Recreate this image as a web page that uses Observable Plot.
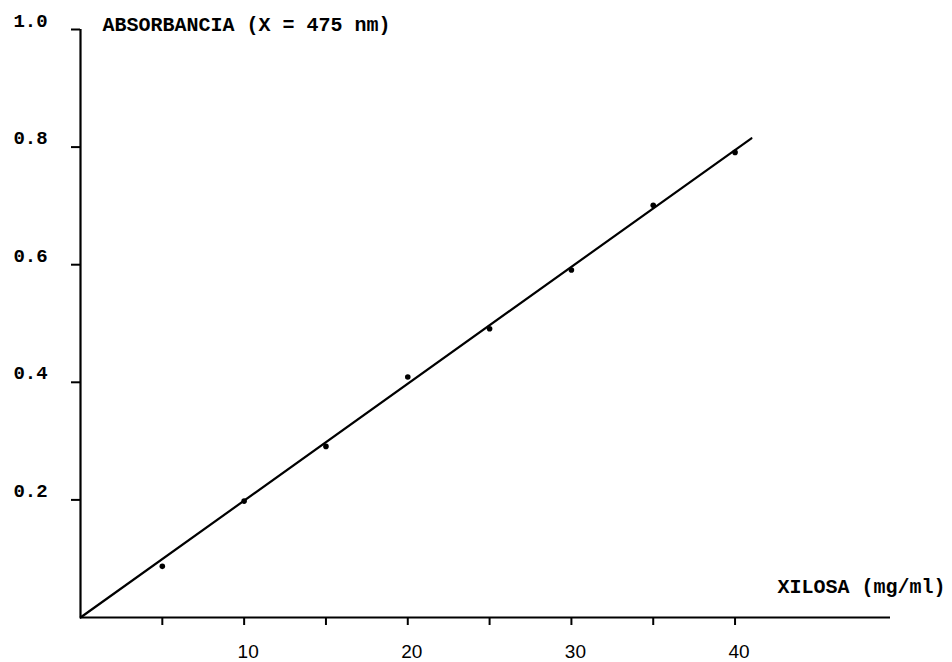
<!DOCTYPE html>
<html>
<head>
<meta charset="utf-8">
<script src="https://cdn.jsdelivr.net/npm/d3@7"></script>
<script src="https://cdn.jsdelivr.net/npm/@observablehq/plot@0.6"></script>
<style>
  html, body { margin: 0; padding: 0; background: #fff; }
  #chart svg { display: block; }
</style>
</head>
<body>
<div id="chart"></div>
<script>
// Data
const concentration = [5, 10, 15, 20, 25, 30, 35, 40];          // XILOSA (mg/ml)
const absorbance = [0.087, 0.198, 0.291, 0.409, 0.491, 0.591, 0.701, 0.791];
const fitX = [0, 41];
const fitY = [0, 0.815];
const xTicks = [5, 10, 15, 20, 25, 30, 35, 40];
const xLabels = [10, 20, 30, 40];
const yTicks = [0.2, 0.4, 0.6, 0.8, 1.0];
const yLabels = ["0.2", "0.4", "0.6", "0.8", "1.0"];
const yTitle = "ABSORBANCIA (X = 475 nm)";
const xTitle = "XILOSA (mg/ml)";

const points = concentration.map((c, i) => ({x: c, y: absorbance[i]}));
const fit = fitX.map((x, i) => ({x, y: fitY[i]}));
const mono = "'Liberation Mono', 'DejaVu Sans Mono', monospace";
const sans = "'Liberation Sans', Arial, sans-serif";

const chart = Plot.plot({
  width: 952,
  height: 662,
  marginLeft: 80,
  marginRight: 62,
  marginTop: 29,
  marginBottom: 45,
  style: {background: "white", overflow: "visible"},
  x: {domain: [0, 49.5], axis: null},
  y: {domain: [0, 1], axis: null},
  marks: [
    Plot.ruleY([0], {stroke: "black", strokeWidth: 2.2}),
    Plot.ruleX([0], {y1: 0, y2: 1, stroke: "black", strokeWidth: 2.2}),
    Plot.axisX({ticks: xTicks, tickSize: 8, tickFormat: () => "", label: null, strokeWidth: 2}),
    Plot.axisY({ticks: yTicks, tickSize: 9, tickFormat: () => "", label: null, strokeWidth: 2}),
    Plot.text(xLabels, {x: d => d, y: 0, dx: 4, dy: 34, text: d => String(d),
      fontSize: 19, fontFamily: sans, fill: "black"}),
    Plot.text(yTicks, {x: 0, y: d => d, dx: -50, dy: -9, text: (d, i) => yLabels[i],
      fontSize: 19, fontFamily: mono, fontWeight: "bold", fill: "black", textAnchor: "middle"}),
    Plot.text([yTitle], {x: 0, y: 1, dx: 22, dy: -5, text: d => d, textAnchor: "start",
      fontSize: 20, fontFamily: mono, fontWeight: "bold", fill: "black"}),
    Plot.text([xTitle], {x: 49.5, y: 0, dx: 55, dy: -31, text: d => d, textAnchor: "end",
      fontSize: 20, fontFamily: mono, fontWeight: "bold", fill: "black"}),
    Plot.line(fit, {x: "x", y: "y", stroke: "black", strokeWidth: 2.2}),
    Plot.dot(points, {x: "x", y: "y", r: 2.8, fill: "black", stroke: "none"})
  ]
});
document.getElementById("chart").append(chart);
</script>
</body>
</html>
